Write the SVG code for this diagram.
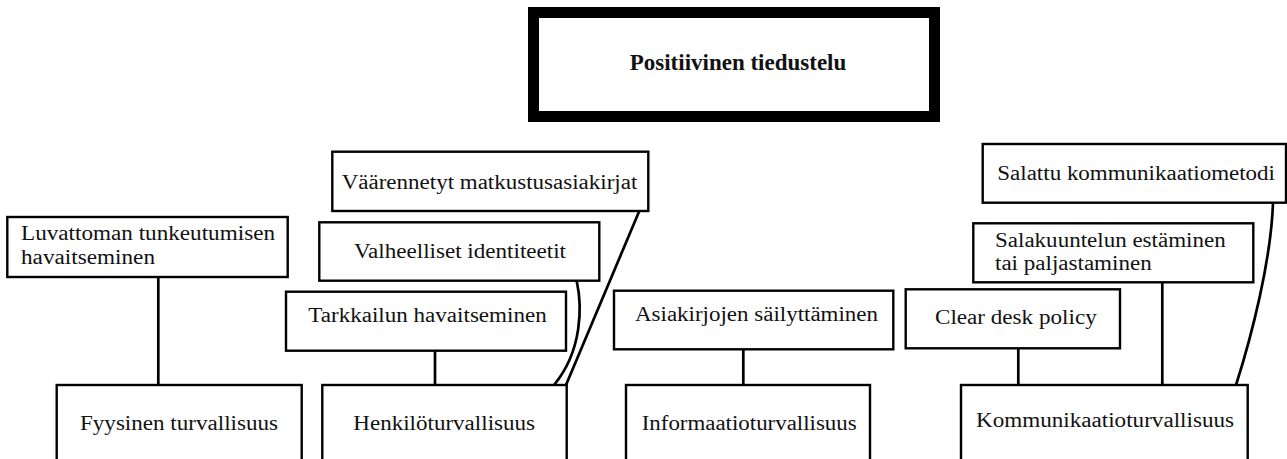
<svg xmlns="http://www.w3.org/2000/svg" width="1287" height="459" viewBox="0 0 1287 459">
<style>
.box{fill:#fff;stroke:#000;stroke-width:2.4}
.t{font-family:"Liberation Serif","Times New Roman",serif;font-size:20px;fill:#111}
.c{text-anchor:middle}
.ln{fill:none;stroke:#000;stroke-width:2.7}
</style>
<rect width="1287" height="459" fill="#fff"/>
<g id="connectors">
<line class="ln" x1="158.3" y1="277" x2="158.3" y2="385"/>
<line class="ln" x1="435" y1="351" x2="435" y2="385"/>
<path class="ln" d="M576.7,281 C582,305 583,350 554,385"/>
<line class="ln" x1="639.3" y1="211" x2="566" y2="385"/>
<line class="ln" x1="743.3" y1="349" x2="743.3" y2="385"/>
<line class="ln" x1="1018.3" y1="348" x2="1018.3" y2="385"/>
<line class="ln" x1="1162.3" y1="282" x2="1162.3" y2="385"/>
<path class="ln" d="M1273,203 C1271,260 1252,335 1236,385"/>
</g>
<g id="title">
<rect x="533.5" y="12.5" width="401" height="104" fill="#fff" stroke="#000" stroke-width="11"/>
<text x="738" y="70" text-anchor="middle" font-family="'Liberation Serif','Times New Roman',serif" font-size="23" font-weight="bold" fill="#111">Positiivinen tiedustelu</text>
</g>
<g id="luvattoman">
<rect class="box" x="7.3" y="217" width="280.4" height="60"/>
<text class="t" x="21" y="240" textLength="254" lengthAdjust="spacingAndGlyphs">Luvattoman tunkeutumisen</text>
<text class="t" x="21" y="264" textLength="134" lengthAdjust="spacingAndGlyphs">havaitseminen</text>
</g>
<g id="fyysinen">
<rect class="box" x="56.7" y="385" width="245" height="90"/>
<text class="t" x="80" y="430" textLength="198" lengthAdjust="spacingAndGlyphs">Fyysinen turvallisuus</text>
</g>
<g id="vaarennetyt">
<rect class="box" x="332.3" y="151.7" width="316" height="59.3"/>
<text class="t" x="341.7" y="189.3" textLength="295.6" lengthAdjust="spacingAndGlyphs">Väärennetyt matkustusasiakirjat</text>
</g>
<g id="valheelliset">
<rect class="box" x="319.3" y="222.3" width="280" height="58.4"/>
<text class="t" x="354" y="258" textLength="212" lengthAdjust="spacingAndGlyphs">Valheelliset identiteetit</text>
</g>
<g id="tarkkailun">
<rect class="box" x="286" y="291.7" width="280" height="59"/>
<text class="t" x="308.3" y="321.7" textLength="238.4" lengthAdjust="spacingAndGlyphs">Tarkkailun havaitseminen</text>
</g>
<g id="henkilo">
<rect class="box" x="322.3" y="385" width="244.4" height="90"/>
<text class="t" x="353.3" y="430" textLength="181.7" lengthAdjust="spacingAndGlyphs">Henkilöturvallisuus</text>
</g>
<g id="asiakirjojen">
<rect class="box" x="614" y="290.7" width="279.3" height="58.6"/>
<text class="t" x="635" y="320.5" textLength="243" lengthAdjust="spacingAndGlyphs">Asiakirjojen säilyttäminen</text>
</g>
<g id="informaatio">
<rect class="box" x="626" y="385" width="244" height="90"/>
<text class="t" x="641.7" y="430" textLength="215" lengthAdjust="spacingAndGlyphs">Informaatioturvallisuus</text>
</g>
<g id="cleardesk">
<rect class="box" x="905.7" y="289.3" width="214.3" height="59"/>
<text class="t" x="935" y="324.3" textLength="161.7" lengthAdjust="spacingAndGlyphs">Clear desk policy</text>
</g>
<g id="salakuuntelun">
<rect class="box" x="973.3" y="223.3" width="280" height="59"/>
<text class="t" x="995" y="246.7" textLength="230.7" lengthAdjust="spacingAndGlyphs">Salakuuntelun estäminen</text>
<text class="t" x="995" y="270" textLength="156.7" lengthAdjust="spacingAndGlyphs">tai paljastaminen</text>
</g>
<g id="salattu">
<rect class="box" x="982.7" y="144" width="303.3" height="58.7"/>
<text class="t" x="997.3" y="180" textLength="277.7" lengthAdjust="spacingAndGlyphs">Salattu kommunikaatiometodi</text>
</g>
<g id="kommunikaatio">
<rect class="box" x="961" y="385" width="286.7" height="90"/>
<text class="t" x="976" y="427.3" textLength="258" lengthAdjust="spacingAndGlyphs">Kommunikaatioturvallisuus</text>
</g>
</svg>
